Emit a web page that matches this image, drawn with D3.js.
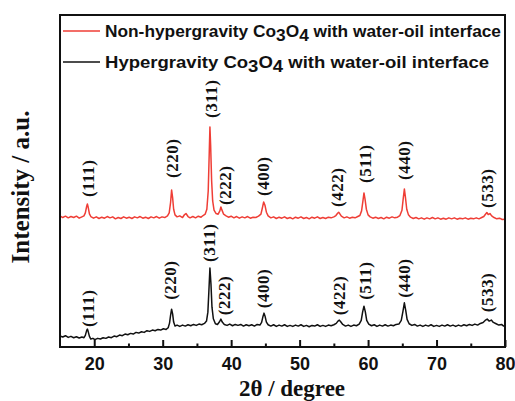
<!DOCTYPE html>
<html>
<head>
<meta charset="utf-8">
<script src="https://cdnjs.cloudflare.com/ajax/libs/d3/7.8.5/d3.min.js"></script>
<style>
  html, body { margin: 0; padding: 0; background: #fff; }
  svg { display: block; }
</style>
</head>
<body>
<svg id="chart" width="515" height="401"></svg>
<script>
// ---------- DATA ----------
const xTicksMajor = [20, 30, 40, 50, 60, 70, 80];
const xTicksMinor = [25, 35, 45, 55, 65, 75];
const seriesNames = ["Non-hypergravity", "Hypergravity"];
const hkl = ["(111)", "(220)", "(311)", "(222)", "(400)", "(422)", "(511)", "(440)", "(533)"];

// labels (2θ, intensity at label foot)
const redLabelTheta = [19.1, 31.4, 37.2, 39.2, 44.7, 55.5, 59.6, 65.3, 77.5];
const redLabelY     = [45.2, 50.9, 69.0, 42.8, 45.5, 42.2, 49.4, 50.3, 41.9];
const blackLabelTheta = [19.1, 31.2, 36.9, 39.1, 44.7, 55.8, 59.6, 65.4, 77.4];
const blackLabelY     = [6.0, 14.2, 25.6, 9.6, 11.7, 9.6, 14.2, 14.8, 10.5];

// XRD pattern, red: [2θ, intensity]
const redPattern = [
[15.0,39.5],[15.4,39.0],[15.8,39.4],[16.2,38.9],[16.6,39.3],[17.0,39.0],[17.4,39.4],[17.8,38.8],[18.2,39.2],[18.5,39.5],
[18.7,40.4],[18.9,42.4],[19.0,43.1],[19.1,42.3],[19.3,40.1],[19.5,39.3],[19.9,38.8],[20.3,39.2],[20.7,38.7],[21.1,39.1],
[21.5,38.8],[21.9,39.3],[22.3,38.9],[22.7,39.2],[23.1,38.6],[23.5,39.0],[23.9,38.7],[24.3,39.2],[24.7,38.8],[25.1,39.1],
[25.5,38.7],[25.9,39.2],[26.3,38.9],[26.7,39.3],[27.1,38.8],[27.5,39.1],[27.9,38.7],[28.3,39.2],[28.7,38.9],[29.1,39.3],
[29.5,38.8],[29.9,39.2],[30.3,39.0],[30.7,39.5],[30.95,40.4],[31.15,43.5],[31.3,47.3],[31.45,45.0],[31.6,41.5],[31.8,39.8],
[32.1,39.2],[32.5,39.5],[32.9,39.0],[33.2,39.9],[33.4,40.2],[33.7,39.3],[34.0,38.9],[34.4,39.3],[34.8,38.9],[35.2,39.4],
[35.6,39.1],[35.9,39.6],[36.2,40.0],[36.45,41.5],[36.65,47.0],[36.8,58.5],[36.9,66.3],[37.0,61.0],[37.15,50.0],[37.3,44.0],
[37.5,41.2],[37.8,40.2],[38.1,40.0],[38.35,41.0],[38.5,42.2],[38.65,41.3],[38.9,40.0],[39.2,39.6],[39.6,39.1],[40.0,39.4],
[40.4,38.9],[40.8,39.3],[41.2,38.8],[41.6,39.2],[42.0,38.9],[42.4,39.3],[42.8,38.8],[43.2,39.1],[43.6,39.0],[44.0,39.4],
[44.35,40.0],[44.55,41.8],[44.75,43.7],[44.95,42.6],[45.15,40.6],[45.4,39.5],[45.8,38.9],[46.2,39.2],[46.6,38.7],[47.0,39.1],
[47.4,38.8],[47.8,39.2],[48.2,38.7],[48.6,39.0],[49.0,38.6],[49.4,39.1],[49.8,38.8],[50.2,39.2],[50.6,38.7],[51.0,39.0],
[51.4,38.6],[51.8,39.1],[52.2,38.8],[52.6,39.2],[53.0,38.7],[53.4,39.0],[53.8,38.7],[54.2,39.1],[54.6,38.9],[55.0,39.2],
[55.3,39.6],[55.55,40.3],[55.7,40.6],[55.85,40.2],[56.1,39.4],[56.5,38.9],[56.9,39.2],[57.3,38.8],[57.7,39.1],[58.1,38.9],
[58.5,39.3],[58.8,39.6],[59.05,41.0],[59.25,44.0],[59.4,46.4],[59.55,44.6],[59.75,41.5],[60.0,39.8],[60.3,39.2],[60.7,38.8],
[61.1,39.1],[61.5,38.7],[61.9,39.0],[62.3,38.6],[62.7,39.1],[63.1,38.8],[63.5,39.2],[63.9,38.9],[64.3,39.1],[64.65,39.6],
[64.95,41.2],[65.15,45.0],[65.3,47.6],[65.45,45.2],[65.65,41.5],[65.9,39.8],[66.2,39.1],[66.6,38.7],[67.0,39.0],[67.4,38.6],
[67.8,38.9],[68.2,38.5],[68.6,38.9],[69.0,38.6],[69.4,39.0],[69.8,38.6],[70.2,38.9],[70.6,38.5],[71.0,38.8],[71.4,38.5],
[71.8,38.9],[72.2,38.6],[72.6,38.9],[73.0,38.5],[73.4,38.8],[73.8,38.6],[74.2,38.9],[74.6,38.5],[75.0,38.8],[75.4,38.6],
[75.8,38.9],[76.2,38.6],[76.6,39.0],[76.9,39.3],[77.15,40.0],[77.35,40.5],[77.55,39.9],[77.8,40.2],[78.05,39.5],[78.4,39.0],
[78.8,38.6],[79.2,38.8],[79.6,38.4],[80.0,38.5]
];

// XRD pattern, black: [2θ, intensity]
const blackPattern = [
[15.0,3.3],[15.4,3.0],[15.8,3.4],[16.2,2.9],[16.6,3.2],[17.0,2.8],[17.4,3.1],[17.8,2.7],[18.2,3.0],[18.5,2.8],
[18.7,3.5],[18.9,5.0],[19.0,5.4],[19.1,4.8],[19.3,3.2],[19.5,2.4],[19.8,2.6],[20.1,2.2],[20.5,2.6],[20.9,2.4],
[21.3,2.8],[21.7,2.6],[22.1,3.0],[22.5,2.8],[22.9,3.3],[23.3,3.1],[23.7,3.6],[24.1,3.4],[24.5,3.9],[24.9,3.7],
[25.3,4.1],[25.7,3.9],[26.1,4.4],[26.5,4.2],[26.9,4.6],[27.3,4.4],[27.7,4.9],[28.1,4.7],[28.5,5.1],[28.9,4.9],
[29.3,5.3],[29.7,5.1],[30.1,5.5],[30.5,5.3],[30.8,5.8],[31.0,7.2],[31.15,9.5],[31.3,11.4],[31.45,10.0],[31.6,7.5],
[31.8,6.3],[32.1,6.6],[32.5,6.2],[32.9,6.6],[33.3,6.3],[33.7,6.7],[34.1,6.4],[34.5,6.8],[34.9,6.5],[35.3,6.9],
[35.7,6.7],[36.1,7.1],[36.4,7.8],[36.6,10.5],[36.75,17.0],[36.9,23.8],[37.05,19.0],[37.2,12.0],[37.4,8.5],[37.7,7.0],
[38.0,6.8],[38.3,7.6],[38.5,8.4],[38.7,7.5],[39.0,6.8],[39.4,6.5],[39.8,6.9],[40.2,6.4],[40.6,6.8],[41.0,6.5],
[41.4,6.8],[41.8,6.3],[42.2,6.7],[42.6,6.4],[43.0,6.7],[43.4,6.3],[43.8,6.8],[44.2,6.6],[44.45,7.4],[44.65,9.2],
[44.8,10.2],[44.95,9.3],[45.15,7.5],[45.4,6.7],[45.8,6.3],[46.2,6.7],[46.6,6.2],[47.0,6.6],[47.4,6.3],[47.8,6.7],
[48.2,6.2],[48.6,6.5],[49.0,6.2],[49.4,6.6],[49.8,6.3],[50.2,6.7],[50.6,6.2],[51.0,6.5],[51.4,6.1],[51.8,6.5],
[52.2,6.3],[52.6,6.7],[53.0,6.2],[53.4,6.5],[53.8,6.2],[54.2,6.6],[54.6,6.4],[55.0,6.7],[55.35,7.1],[55.6,7.8],
[55.8,8.1],[56.0,7.6],[56.3,6.8],[56.7,6.3],[57.1,6.6],[57.5,6.2],[57.9,6.6],[58.3,6.4],[58.7,6.9],[59.0,8.0],
[59.2,10.5],[59.4,12.3],[59.6,10.6],[59.8,8.0],[60.1,6.9],[60.5,6.4],[60.9,6.7],[61.3,6.2],[61.7,6.6],[62.1,6.3],
[62.5,6.7],[62.9,6.3],[63.3,6.6],[63.7,6.4],[64.1,6.8],[64.5,6.9],[64.85,8.0],[65.1,10.8],[65.3,13.3],[65.5,11.0],
[65.7,8.3],[66.0,7.0],[66.4,6.5],[66.8,6.8],[67.2,6.3],[67.6,6.6],[68.0,6.2],[68.4,6.6],[68.8,6.3],[69.2,6.7],
[69.6,6.2],[70.0,6.5],[70.4,6.2],[70.8,6.6],[71.2,6.3],[71.6,6.7],[72.0,6.3],[72.4,6.6],[72.8,6.2],[73.2,6.6],
[73.6,6.3],[74.0,6.7],[74.4,6.4],[74.8,6.8],[75.2,6.5],[75.6,6.9],[76.0,6.6],[76.4,7.1],[76.8,7.4],[77.1,8.0],
[77.4,8.4],[77.7,7.8],[78.0,8.1],[78.3,7.4],[78.7,7.0],[79.1,6.6],[79.5,6.8],[79.8,6.3],[80.0,6.4]
];

// ---------- CHART ----------
const RED = "#ef3e36", BLACK = "#111";
const svg = d3.select("#chart");
const x = d3.scaleLinear().domain([15, 80]).range([60, 505]);
const y = d3.scaleLinear().domain([0, 100]).range([347, 15]);

const line = d3.line().x(d => x(d[0])).y(d => y(d[1]));

svg.append("path").datum(redPattern).attr("d", line)
  .attr("fill", "none").attr("stroke", RED).attr("stroke-width", 1.5).attr("stroke-linejoin", "round");
svg.append("path").datum(blackPattern).attr("d", line)
  .attr("fill", "none").attr("stroke", BLACK).attr("stroke-width", 1.5).attr("stroke-linejoin", "round");

// peak labels
function addLabels(thetas, ys) {
  svg.append("g").selectAll("text").data(hkl).join("text")
    .attr("transform", (d, i) => `translate(${x(thetas[i])},${y(ys[i])}) rotate(-90)`)
    .attr("dy", "0.32em")
    .attr("text-anchor", "start")
    .attr("font-family", "'Liberation Serif', 'Times New Roman', serif")
    .attr("font-weight", "bold")
    .attr("font-size", 17)
    .attr("letter-spacing", 0.5)
    .attr("fill", "#111")
    .text(d => d);
}
addLabels(redLabelTheta, redLabelY);
addLabels(blackLabelTheta, blackLabelY);

// axes
const gx = svg.append("g").attr("transform", `translate(0,${y(0)})`)
  .call(d3.axisBottom(x).tickValues(xTicksMajor).tickSize(-7).tickPadding(10).tickFormat(d3.format("d")));
gx.select(".domain").remove();
gx.selectAll(".tick line").attr("stroke", "#111").attr("stroke-width", 2);
gx.selectAll(".tick text").attr("font-family", "'Liberation Sans', Arial, sans-serif")
  .attr("font-weight", "bold").attr("font-size", 18).attr("fill", "#111");

const gm = svg.append("g").attr("transform", `translate(0,${y(0)})`)
  .call(d3.axisBottom(x).tickValues(xTicksMinor).tickSize(-3.5).tickFormat(""));
gm.select(".domain").remove();
gm.selectAll(".tick line").attr("stroke", "#111").attr("stroke-width", 2);

// frame
svg.append("rect")
  .attr("x", x(15)).attr("y", y(100))
  .attr("width", x(80) - x(15)).attr("height", y(0) - y(100))
  .attr("fill", "none").attr("stroke", "#111").attr("stroke-width", 2);

// axis titles
svg.append("text")
  .attr("x", 292).attr("y", 396)
  .attr("text-anchor", "middle")
  .attr("font-family", "'Liberation Serif', 'Times New Roman', serif")
  .attr("font-weight", "bold").attr("font-size", 23).attr("fill", "#111")
  .text("2θ / degree");

svg.append("text")
  .attr("transform", "translate(29,187) rotate(-90)")
  .attr("text-anchor", "middle")
  .attr("font-family", "'Liberation Serif', 'Times New Roman', serif")
  .attr("font-weight", "bold").attr("font-size", 25).attr("fill", "#111")
  .text("Intensity / a.u.");

// legend
const legendRows = [
  { name: seriesNames[0], color: RED, ly: 31, ty: 37, len: 396 },
  { name: seriesNames[1], color: BLACK, ly: 62, ty: 68, len: 384 }
];
legendRows.forEach(r => {
  svg.append("line").attr("x1", 63).attr("x2", 100).attr("y1", r.ly).attr("y2", r.ly)
    .attr("stroke", r.color).attr("stroke-width", 1.6);
  const t = svg.append("text").attr("x", 105).attr("y", r.ty)
    .attr("font-family", "'Liberation Sans', Arial, sans-serif")
    .attr("font-weight", "bold").attr("font-size", 17).attr("fill", "#111")
    .attr("textLength", r.len).attr("lengthAdjust", "spacingAndGlyphs");
  t.append("tspan").text(r.name + " Co");
  t.append("tspan").attr("dy", 4).text("3");
  t.append("tspan").attr("dy", -4).text("O");
  t.append("tspan").attr("dy", 4).text("4");
  t.append("tspan").attr("dy", -4).text(" with water-oil interface");
});
</script>
</body>
</html>
